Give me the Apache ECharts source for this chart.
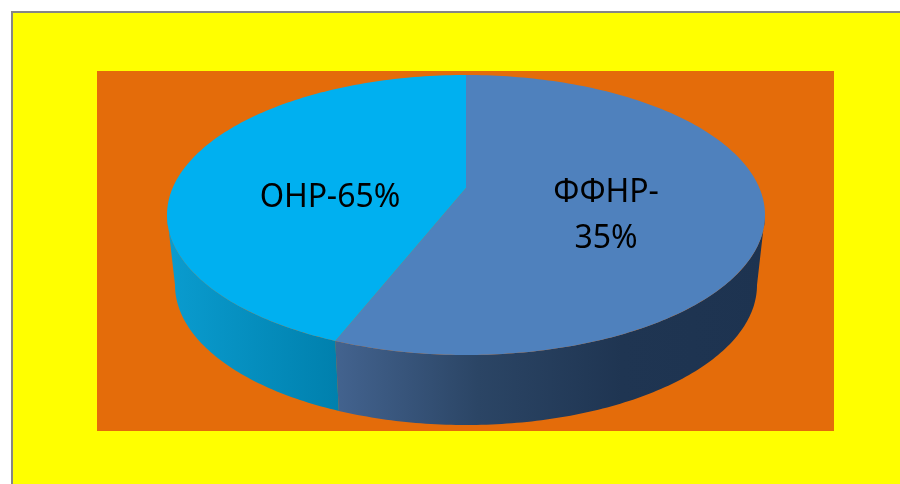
<!DOCTYPE html>
<html>
<head>
<meta charset="utf-8">
<style>
  html, body { margin: 0; padding: 0; background: #fff; }
  #chart { width: 900px; height: 484px; }
</style>
<script src="https://cdn.jsdelivr.net/npm/echarts@6/dist/echarts.min.js"></script>
</head>
<body>
<div id="chart"></div>
<script>
// slice shares as drawn, the text labels say something else in the original
const sliceNames = ['ФФНР', 'ОНР']
const sliceValues = [57.2, 42.8]
const sliceLabels = ['ФФНР-\n35%', 'ОНР-65%']

const topColors = ['#4f81bd', '#00b0f0']
const wallColors = [
  ['#43638f', '#2b4565', '#1f3552', '#1d3350'],
  ['#0a9ccf', '#0080ad']
]
const labelPos = [[606, 216], [330, 198]]

// pie geometry in px, apex sits above the ellipse centre (perspective look)
const topRim = { cx: 466, cy: 215, rx: 299, ry: 140, apexY: 188 }
const bottomRim = { cx: 466, cy: 285, rx: 291, ry: 140 }

function rimPoint(e, deg) {
  const a = deg * Math.PI / 180
  return [e.cx + e.rx * Math.sin(a), e.cy - e.ry * Math.cos(a)]
}

function arcPoints(e, from, to) {
  const pts = []
  const steps = Math.max(2, Math.ceil(Math.abs(to - from)))
  for (let i = 0; i <= steps; i++) {
    pts.push(rimPoint(e, from + (to - from) * i / steps))
  }
  return pts
}

const total = sliceValues.reduce((s, v) => s + v, 0)

function renderSlice(params, api) {
  const i = params.dataIndex
  let before = 0
  for (let k = 0; k < i; k++) before += sliceValues[k]
  const start = before / total * 360
  const end = start + api.value(0) / total * 360

  const children = []

  // only the front half of the wall can be seen
  const wallFrom = Math.max(start, 90)
  const wallTo = Math.min(end, 270)
  if (wallTo > wallFrom) {
    const stops = wallColors[i].map((color, n, all) => ({
      offset: n / (all.length - 1),
      color
    }))
    children.push({
      type: 'polygon',
      shape: {
        points: arcPoints(topRim, wallFrom, wallTo).concat(arcPoints(bottomRim, wallTo, wallFrom))
      },
      style: {
        fill: new echarts.graphic.LinearGradient(0, 0, 1, 0, stops)
      }
    })
  }

  children.push({
    type: 'polygon',
    shape: { points: [[topRim.cx, topRim.apexY]].concat(arcPoints(topRim, start, end)) },
    style: { fill: topColors[i] },
    z2: 2
  })

  children.push({
    type: 'text',
    z2: 5,
    style: {
      text: sliceLabels[i],
      x: labelPos[i][0],
      y: labelPos[i][1],
      align: 'center',
      verticalAlign: 'middle',
      fill: '#000',
      fontFamily: 'Noto Sans',
      fontSize: 32,
      lineHeight: 46
    }
  })

  return { type: 'group', children }
}

const chart = echarts.init(document.getElementById('chart'), null, { renderer: 'canvas' })

chart.setOption({
  backgroundColor: '#fff',
  animation: false,
  graphic: [
    {
      type: 'rect',
      z: -2,
      shape: { x: 12, y: 12, width: 900, height: 484 },
      style: { fill: '#ffff00', stroke: '#868686', lineWidth: 2 }
    },
    {
      type: 'rect',
      z: -1,
      shape: { x: 97, y: 71, width: 737, height: 360 },
      style: { fill: '#e46c0a' }
    }
  ],
  series: [
    {
      type: 'custom',
      coordinateSystem: 'none',
      renderItem: renderSlice,
      data: sliceValues.map((v, i) => ({ name: sliceNames[i], value: [v] }))
    }
  ]
})
</script>
</body>
</html>
